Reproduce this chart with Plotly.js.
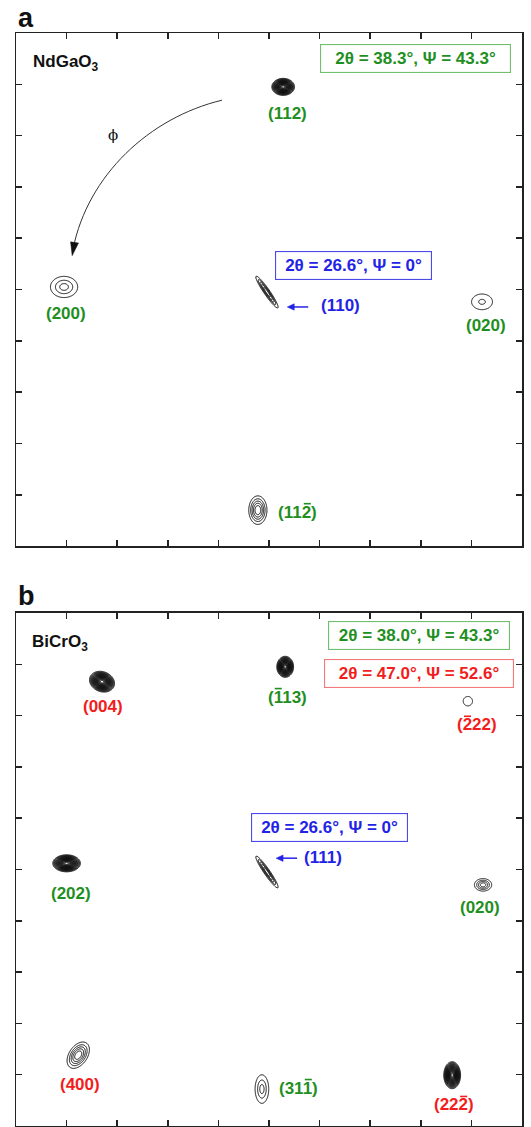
<!DOCTYPE html>
<html><head><meta charset="utf-8">
<script src="https://cdn.plot.ly/plotly-3.0.1.min.js"></script>
<style>html,body{margin:0;padding:0;background:#fff}</style>
</head><body><div id="chart" style="width:531px;height:1127px"></div>
<script>
// ---------- Panel a : NdGaO3 ----------
const aPeakX   = [5.28, 0.95, 4.96, 9.21, 4.78];
const aPeakY   = [8.95, 5.05, 4.95, 4.76, 0.70];
const aSigX    = [0.115, 0.15, 0.21, 0.115, 0.10];
const aSigY    = [0.085, 0.115, 0.032, 0.085, 0.155];
const aAngle   = [0, 0, -55, 0, 0];
const aLevels  = [22, 3, 5, 2, 5];
const aLabels  = ['(112)', '(200)', '(110)', '(020)', '(112)'];
const aBarChar = [-1, -1, -1, -1, 3];          // index of the digit that carries an overbar
const aLabelX  = [5.36, 0.98, 6.42, 9.29, 5.57];
const aLabelY  = [8.44, 4.54, 4.68, 4.29, 0.66];
const aLabelC  = ['g', 'g', 'b', 'g', 'g'];

// ---------- Panel b : BiCrO3 ----------
const bPeakX   = [1.70, 5.32, 8.93, 4.96, 1.00, 9.23, 1.23, 4.86, 8.62];
const bPeakY   = [8.66, 8.95, 8.28, 4.95, 5.12, 4.70, 1.38, 0.72, 0.99];
const bSigX    = [0.13, 0.085, 0.055, 0.21, 0.14, 0.095, 0.16, 0.075, 0.085];
const bSigY    = [0.10, 0.105, 0.055, 0.032, 0.085, 0.068, 0.10, 0.155, 0.135];
const bAngle   = [-20, 0, 0, -55, 0, 0, 55, 0, 0];
const bLevels  = [22, 22, 1, 5, 22, 4, 5, 3, 22];
const bLabels  = ['(004)', '(113)', '(222)', '(111)', '(202)', '(020)', '(400)', '(311)', '(222)'];
const bBarChar = [-1, 1, 1, -1, -1, -1, -1, 3, 3];
const bLabelX  = [1.72, 5.37, 9.11, 6.07, 1.09, 9.17, 1.26, 5.59, 8.66];
const bLabelY  = [8.17, 8.36, 7.82, 5.24, 4.54, 4.25, 0.80, 0.74, 0.41];
const bLabelC  = ['r', 'g', 'r', 'b', 'g', 'g', 'r', 'g', 'r'];

const COL = {g: '#1f8f1f', b: '#2323e6', r: '#f21d1d'};
const BOX = {g: '#70c070', b: '#4a4ae8', r: '#f27a7a'};
const FONT = 'Arial, "Liberation Sans", sans-serif';
const FS = 17;

function peakTrace(cx, cy, sx, sy, ang, nlev, xa, ya){
  const N = 70;
  const span = 2.6 * Math.max(sx, sy);
  const xs = [], ys = [];
  for (let i = 0; i < N; i++){ xs.push(cx - span + 2*span*i/(N-1)); ys.push(cy - span + 2*span*i/(N-1)); }
  const t = ang * Math.PI / 180, c = Math.cos(t), s = Math.sin(t);
  const z = ys.map(y => xs.map(x => {
    const dx = x - cx, dy = y - cy;
    const u = dx*c + dy*s, v = -dx*s + dy*c;
    return Math.exp(-0.5*(u*u/(sx*sx) + v*v/(sy*sy)));
  }));
  let start, end, size;
  if (nlev >= 10){ start = 0.15; end = 0.97; size = (end-start)/(nlev-1); }
  else if (nlev === 1){ start = 0.25; end = 0.25; size = 1; }
  else { start = 0.2; end = 0.85; size = (end-start)/(nlev-1); }
  return {type:'contour', x: xs, y: ys, z: z, xaxis: xa, yaxis: ya,
    contours:{coloring:'lines', start:start, end:end, size:size, showlabels:false},
    colorscale:[[0,'#111'],[1,'#111']], line:{width:1, smoothing:1.0},
    showscale:false, hoverinfo:'skip'};
}

const traces = [];
aPeakX.forEach((x,i)=>traces.push(peakTrace(x, aPeakY[i], aSigX[i], aSigY[i], aAngle[i], aLevels[i], 'x', 'y')));
bPeakX.forEach((x,i)=>traces.push(peakTrace(x, bPeakY[i], bSigX[i], bSigY[i], bAngle[i], bLevels[i], 'x2', 'y2')));

const axBase = {range:[0,10], showline:true, linecolor:'#222', linewidth:1.5, mirror:'ticks',
  ticks:'inside', ticklen:6, tickwidth:1.5, tickcolor:'#222', dtick:1, tick0:0,
  showticklabels:false, showgrid:false, zeroline:false, fixedrange:true};

const ann = [];
const shapes = [];
// Arial-bold advance widths (em) for label glyphs
const ADV = {'(':0.333, ')':0.333, '0':0.556,'1':0.556,'2':0.556,'3':0.556,'4':0.556};
function lab(text, x, y, col, bar, xr, yr){
  ann.push({text:text, x:x, y:y, xref:xr, yref:yr, showarrow:false,
    font:{family:FONT, size:FS, color:COL[col], weight:'bold'}});
  if (bar >= 0){
    const total = [...text].reduce((s,ch)=>s+ADV[ch],0)*FS;
    let left = 0;
    for (let k = 0; k < bar; k++) left += ADV[text[k]]*FS;
    const c0 = left - total/2 + 1.2, c1 = left + ADV[text[bar]]*FS - total/2 - 1.2;
    shapes.push({type:'line', xref:xr, yref:yr, xsizemode:'pixel', ysizemode:'pixel',
      xanchor:x, yanchor:y, x0:c0, x1:c1, y0:8.5, y1:8.5,
      line:{color:COL[col], width:1.6}});
  }
}
aLabels.forEach((t,i)=>lab(t, aLabelX[i], aLabelY[i], aLabelC[i], aBarChar[i], 'x', 'y'));
bLabels.forEach((t,i)=>lab(t, bLabelX[i], bLabelY[i], bLabelC[i], bBarChar[i], 'x2', 'y2'));

function box(text, x, y, col, w, xr, yr){
  ann.push({text:text, x:x, y:y, xref:xr, yref:yr, showarrow:false,
    width:w, height:23, borderpad:2, bordercolor:BOX[col], borderwidth:1.1, bgcolor:'#fff',
    font:{family:FONT, size:FS, color:COL[col], weight:'bold'}});
}
box('2\u03b8 = 38.3\u00b0, \u03a8 = 43.3\u00b0', 7.89, 9.50, 'g', 185, 'x', 'y');
box('2\u03b8 = 26.6\u00b0, \u03a8 = 0\u00b0', 6.67, 5.46, 'b', 151, 'x', 'y');
box('2\u03b8 = 38.0\u00b0, \u03a8 = 43.3\u00b0', 7.96, 9.56, 'g', 176, 'x2', 'y2');
box('2\u03b8 = 47.0\u00b0, \u03a8 = 52.6\u00b0', 7.96, 8.82, 'r', 184, 'x2', 'y2');
box('2\u03b8 = 26.6\u00b0, \u03a8 = 0\u00b0', 6.20, 5.82, 'b', 151, 'x2', 'y2');

// material names
ann.push({text:'NdGaO<sub>3</sub>', x:0.29, y:9.42, xref:'x', yref:'y', xanchor:'left', showarrow:false,
  font:{family:FONT, size:17, color:'#111', weight:'bold'}});
ann.push({text:'BiCrO<sub>3</sub>', x:0.28, y:9.42, xref:'x2', yref:'y2', xanchor:'left', showarrow:false,
  font:{family:FONT, size:17, color:'#111', weight:'bold'}});
// panel letters
ann.push({text:'a', x:0, y:1.0137, xref:'paper', yref:'paper', xanchor:'left', yanchor:'middle', showarrow:false,
  font:{family:FONT, size:27, color:'#111', weight:'bold'}});
ann.push({text:'b', x:0, y:0.4849, xref:'paper', yref:'paper', xanchor:'left', yanchor:'middle', showarrow:false,
  font:{family:FONT, size:27, color:'#111', weight:'bold'}});
// phi
ann.push({text:'\u03d5', x:1.92, y:8.01, xref:'x', yref:'y', showarrow:false,
  font:{family:'"DejaVu Serif", serif', size:15, color:'#111'}});

// blue "←" pointers to the (110) / (111) streaks (tip positions in data units)
const ptrX = [5.36, 5.14], ptrY = [4.66, 5.22], ptrAx = [['x','y'],['x2','y2']];
ptrX.forEach((px,i)=>{
  const [xr, yr] = ptrAx[i];
  shapes.push({type:'line', xref:xr, yref:yr, xsizemode:'pixel', ysizemode:'pixel', xanchor:px, yanchor:ptrY[i],
    x0:2, x1:21, y0:0, y1:0, line:{color:COL.b, width:1.5}});
  shapes.push({type:'path', xref:xr, yref:yr, xsizemode:'pixel', ysizemode:'pixel', xanchor:px, yanchor:ptrY[i],
    path:'M 0,0 L 7,3.2 L 7,-3.2 Z', fillcolor:COL.b, line:{color:COL.b, width:0.5}});
});

// phi rotation arc (Bezier control points in data units) and its arrowhead
const arcPts = [[4.07,8.69],[2.63,8.35],[1.42,7.22],[1.13,5.80]];
shapes.push({type:'path', xref:'x', yref:'y',
  path:`M ${arcPts[0][0]},${arcPts[0][1]} C ${arcPts[1][0]},${arcPts[1][1]} ${arcPts[2][0]},${arcPts[2][1]} ${arcPts[3][0]},${arcPts[3][1]}`,
  line:{color:'#333', width:1}});
shapes.push({type:'path', xref:'x', yref:'y', xsizemode:'pixel', ysizemode:'pixel', xanchor:1.11, yanchor:5.66,
  path:'M 0,0 L 6.3,12.6 L -1.6,13.8 Z', fillcolor:'#111', line:{color:'#111', width:0.5}});

const layout = {
  width:531, height:1127, margin:{l:16, r:9, t:33, b:1},
  paper_bgcolor:'#fff', plot_bgcolor:'#fff', showlegend:false,
  xaxis:Object.assign({}, axBase, {domain:[0,1], anchor:'y'}),
  yaxis:Object.assign({}, axBase, {domain:[0.5306,1], anchor:'x'}),
  xaxis2:Object.assign({}, axBase, {domain:[0,1], anchor:'y2'}),
  yaxis2:Object.assign({}, axBase, {domain:[0,0.4694], anchor:'x2'}),
  annotations:ann, shapes:shapes
};
Plotly.newPlot('chart', traces, layout, {displayModeBar:false, staticPlot:true});
</script></body></html>
